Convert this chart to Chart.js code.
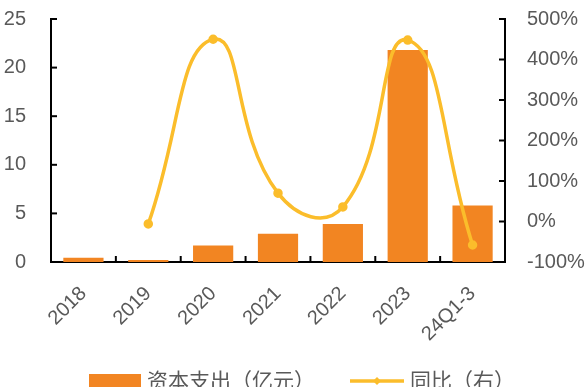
<!DOCTYPE html>
<html><head><meta charset="utf-8">
<script src="https://cdn.jsdelivr.net/npm/chart.js@4.4.0/dist/chart.umd.min.js"></script>
<style>
html,body{margin:0;padding:0;background:#fff;overflow:hidden}
#wrap{position:relative;width:585px;height:387px}
#legend{position:absolute;left:0;top:365px;width:585px;font-family:"Noto Sans CJK SC",sans-serif;font-size:21px;color:#595959;white-space:nowrap;line-height:28px}
.it{position:absolute;top:0}
</style></head><body>
<div id="wrap"><canvas id="c" width="585" height="387"></canvas>
<div id="legend">
<span class="it" style="left:89px"><span style="display:inline-block;width:52px;height:13px;background:#F28522;vertical-align:middle;margin-top:-3px"></span><span style="margin-left:6px">资本支出（亿元）</span></span>
<span class="it" style="left:350px"><svg width="54" height="14" style="vertical-align:middle;margin-top:-3px"><line x1="0" y1="7" x2="54" y2="7" stroke="#FBBD2B" stroke-width="3.5"/><path d="M27 3 L31 7 L27 11 L23 7 Z" fill="#FBBD2B"/></svg><span style="margin-left:6px">同比（右）</span></span>
</div></div>
<script>
const categories = ["2018","2019","2020","2021","2022","2023","24Q1-3"];
const capex = [0.45, 0.2, 1.7, 2.9, 3.9, 21.8, 5.8];
const yoy = [null, -6, 450, 70, 36, 448, -58];
const leftTicks = [0,5,10,15,20,25];
const rightTicks = [-100,0,100,200,300,400,500];

const tickColor = '#595959';
const font = {family:'"Liberation Sans", Arial, sans-serif', size:20};

const innerTicks = {
  id:'innerTicks',
  afterDraw(chart){
    const ctx = chart.ctx, a = chart.chartArea;
    ctx.save(); ctx.strokeStyle='#000'; ctx.lineWidth=2;
    const y = chart.scales.y, y1 = chart.scales.y1, x = chart.scales.x;
    y.ticks.forEach((t,i)=>{const p=y.getPixelForTick(i); ctx.beginPath(); ctx.moveTo(a.left,p); ctx.lineTo(a.left+6,p); ctx.stroke();});
    y1.ticks.forEach((t,i)=>{const p=y1.getPixelForTick(i); ctx.beginPath(); ctx.moveTo(a.right,p); ctx.lineTo(a.right-6,p); ctx.stroke();});
    for(let i=0;i<categories.length-1;i++){
      const p=(x.getPixelForTick(i)+x.getPixelForTick(i+1))/2;
      ctx.beginPath(); ctx.moveTo(p,a.bottom); ctx.lineTo(p,a.bottom-6); ctx.stroke();
    }
    ctx.restore();
  }
};

function fixV(w){return function(s){s.width=w; s.paddingTop=0; s.paddingBottom=0;};}

new Chart(document.getElementById('c'), {
  data:{
    labels:categories,
    datasets:[
      {type:'line', label:'同比（右）', data:yoy, yAxisID:'y1', borderColor:'#FBBD2B', backgroundColor:'#FBBD2B', borderWidth:3.5, tension:0.5, pointRadius:3, pointHoverRadius:3, spanGaps:false, order:0},
      {type:'bar', label:'资本支出（亿元）', data:capex, yAxisID:'y', backgroundColor:'#F28522', categoryPercentage:1, barPercentage:0.62, order:1}
    ]
  },
  options:{
    responsive:false, animation:false,
    layout:{padding:{top:19,left:0,right:0,bottom:0}},
    plugins:{legend:{display:false}, tooltip:{enabled:false}},
    scales:{
      x:{
        grid:{display:false, offset:true},
        border:{display:true,color:'#000',width:2},
        ticks:{color:tickColor, font:font, minRotation:45, maxRotation:45, padding:12},
        afterFit(s){s.height=125; s.paddingLeft=0; s.paddingRight=0;}
      },
      y:{
        position:'left', min:0, max:25,
        afterBuildTicks(s){s.ticks = leftTicks.map(v=>({value:v}));},
        grid:{display:false},
        border:{display:true,color:'#000',width:2},
        ticks:{color:tickColor, font:font, padding:17},
        afterFit:fixV(51)
      },
      y1:{
        position:'right', min:-100, max:500,
        afterBuildTicks(s){s.ticks = rightTicks.map(v=>({value:v}));},
        grid:{display:false},
        border:{display:true,color:'#000',width:2},
        ticks:{color:tickColor, font:font, padding:14, callback:v=>v+'%'},
        afterFit:fixV(80)
      }
    }
  },
  plugins:[innerTicks]
});
</script></body></html>
